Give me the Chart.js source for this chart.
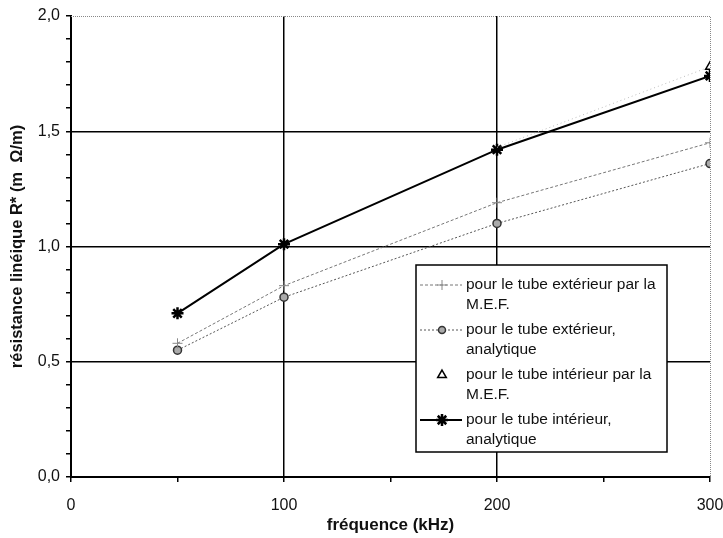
<!DOCTYPE html>
<html>
<head>
<meta charset="utf-8">
<script src="https://cdn.jsdelivr.net/npm/chart.js@4"></script>
<style>
  html, body { margin: 0; padding: 0; background: #fff; }
  #wrap { width: 723px; height: 538px; }
</style>
</head>
<body>
<div id="wrap"><canvas id="resistanceChart" width="723" height="538"></canvas></div>
<script>
// fréquences (kHz)
var freq = [50, 100, 200, 300];
// résistance linéique (mΩ/m)
var extMEF = [0.58, 0.83, 1.19, 1.45];
var extAnalytique = [0.55, 0.78, 1.10, 1.36];
var intMEF = [null, null, 1.43, 1.78];
var intAnalytique = [0.71, 1.01, 1.42, 1.74];

var legendLabels = [
    ['pour le tube extérieur par la', 'M.E.F.'],
    ['pour le tube extérieur,', 'analytique'],
    ['pour le tube intérieur par la', 'M.E.F.'],
    ['pour le tube intérieur,', 'analytique']
];

var FONT = 'Arial, "Liberation Sans", sans-serif';

function pts(values) {
    return freq.map(function (f, i) { return { x: f, y: values[i] }; });
}

function isHalf(v) {
    return Math.abs(v * 2 - Math.round(v * 2)) < 1e-6;
}

// cadre pointillé en haut et à droite
var framePlugin = {
    id: 'frame',
    beforeDatasetsDraw: function (chart) {
        var a = chart.chartArea, ctx = chart.ctx;
        ctx.save();
        ctx.strokeStyle = '#888';
        ctx.lineWidth = 1;
        ctx.setLineDash([1, 1]);
        ctx.beginPath();
        ctx.moveTo(a.left, a.top + 0.5);
        ctx.lineTo(a.right + 0.5, a.top + 0.5);
        ctx.lineTo(a.right + 0.5, a.bottom);
        ctx.stroke();
        ctx.restore();
    }
};

// légende encadrée, libellés sur deux lignes
var boxLegend = {
    id: 'boxLegend',
    afterDraw: function (chart) {
        var ctx = chart.ctx;
        var x0 = 416, y0 = 265, w = 251, h = 187;
        ctx.save();
        ctx.fillStyle = '#fff';
        ctx.fillRect(x0, y0, w, h);
        ctx.strokeStyle = '#000';
        ctx.lineWidth = 1.5;
        ctx.setLineDash([]);
        ctx.strokeRect(x0, y0, w, h);
        ctx.font = '15.5px ' + FONT;
        ctx.textBaseline = 'middle';
        chart.data.datasets.forEach(function (ds, i) {
            var y = y0 + 20 + i * 45;
            if (ds.showSample !== false) {
                ctx.strokeStyle = ds.borderColor;
                ctx.lineWidth = ds.borderWidth;
                ctx.setLineDash(ds.borderDash || []);
                ctx.beginPath();
                ctx.moveTo(x0 + 4, y);
                ctx.lineTo(x0 + 46, y);
                ctx.stroke();
            }
            ctx.setLineDash([]);
            ctx.strokeStyle = ds.pointBorderColor;
            ctx.fillStyle = ds.pointBackgroundColor || ds.pointBorderColor;
            ctx.lineWidth = ds.pointBorderWidth;
            Chart.helpers.drawPoint(ctx, {
                pointStyle: ds.pointStyle,
                radius: ds.legendRadius,
                borderWidth: ds.pointBorderWidth
            }, x0 + 26, y);
            ctx.fillStyle = '#111';
            ctx.fillText(legendLabels[i][0], x0 + 50, y);
            ctx.fillText(legendLabels[i][1], x0 + 50, y + 20);
        });
        ctx.restore();
    }
};

var ctx = document.getElementById('resistanceChart').getContext('2d');
var resistanceChart = new Chart(ctx, {
    type: 'line',
    data: {
        datasets: [{
            label: legendLabels[0].join(' '),
            data: pts(extMEF),
            borderColor: '#777',
            borderWidth: 1,
            borderDash: [3, 2],
            pointStyle: 'cross',
            pointRadius: 5,
            legendRadius: 5,
            pointBorderColor: '#888',
            pointBorderWidth: 1,
            backgroundColor: '#888',
            fill: false
        }, {
            label: legendLabels[1].join(' '),
            data: pts(extAnalytique),
            borderColor: '#555',
            borderWidth: 1,
            borderDash: [2, 2],
            pointStyle: 'circle',
            pointRadius: 4,
            legendRadius: 3.5,
            pointBorderColor: '#333',
            pointBackgroundColor: '#aaa',
            pointBorderWidth: 1.5,
            backgroundColor: '#333',
            fill: false
        }, {
            label: legendLabels[2].join(' '),
            data: pts(intMEF),
            borderColor: '#bbb',
            borderWidth: 1,
            borderDash: [1, 3],
            showSample: false,
            pointStyle: 'triangle',
            pointRadius: function (c) { return c.dataIndex === 3 ? 5 : 0; },
            legendRadius: 5,
            pointBorderColor: '#000',
            pointBackgroundColor: '#fff',
            pointBorderWidth: 1.5,
            backgroundColor: '#fff',
            fill: false
        }, {
            label: legendLabels[3].join(' '),
            data: pts(intAnalytique),
            borderColor: '#000',
            borderWidth: 2,
            pointStyle: 'star',
            pointRadius: 6,
            legendRadius: 6,
            pointBorderColor: '#000',
            pointBorderWidth: 2.5,
            backgroundColor: '#000',
            fill: false
        }]
    },
    options: {
        responsive: false,
        animation: false,
        layout: { padding: { left: 0, top: 16, right: 0, bottom: 0 } },
        plugins: {
            legend: { display: false },
            tooltip: { enabled: false }
        },
        scales: {
            x: {
                type: 'linear',
                min: 0,
                max: 300,
                ticks: {
                    stepSize: 50,
                    autoSkip: false,
                    maxRotation: 0,
                    padding: 14,
                    color: '#111',
                    font: { family: FONT, size: 16 },
                    callback: function (v) { return v % 100 === 0 ? String(v) : ''; }
                },
                grid: {
                    color: function (c) {
                        var v = c.tick && c.tick.value;
                        return (v === 100 || v === 200) ? '#000' : 'rgba(0,0,0,0)';
                    },
                    lineWidth: 1.5,
                    tickLength: 5,
                    tickColor: '#000',
                    tickWidth: 1.5
                },
                border: { color: '#000', width: 2 },
                title: {
                    display: true,
                    text: 'fréquence (kHz)',
                    color: '#111',
                    font: { family: FONT, size: 17, weight: 'bold' },
                    padding: { top: 0, bottom: 2 }
                },
                afterFit: function (s) {
                    s.height = 61;
                    s.paddingLeft = 0;
                    s.paddingRight = 13;
                }
            },
            y: {
                min: 0,
                max: 2,
                ticks: {
                    stepSize: 0.1,
                    autoSkip: false,
                    padding: 6,
                    color: '#111',
                    font: { family: FONT, size: 16 },
                    callback: function (v) { return isHalf(v) ? v.toFixed(1).replace('.', ',') : ''; }
                },
                grid: {
                    color: function (c) {
                        var v = c.tick && c.tick.value;
                        if (v === undefined || v <= 0.01 || v >= 1.99) return 'rgba(0,0,0,0)';
                        return isHalf(v) ? '#000' : 'rgba(0,0,0,0)';
                    },
                    lineWidth: 1.5,
                    tickLength: 5,
                    tickColor: '#000',
                    tickWidth: 1.5
                },
                border: { color: '#000', width: 2 },
                title: {
                    display: true,
                    text: 'résistance linéique R* (m  Ω/m)',
                    color: '#111',
                    font: { family: FONT, size: 16.5, weight: 'bold' },
                    padding: { top: 8, bottom: 0 }
                },
                afterFit: function (s) { s.width = 71; }
            }
        }
    },
    plugins: [framePlugin, boxLegend]
});
</script>
</body>
</html>
